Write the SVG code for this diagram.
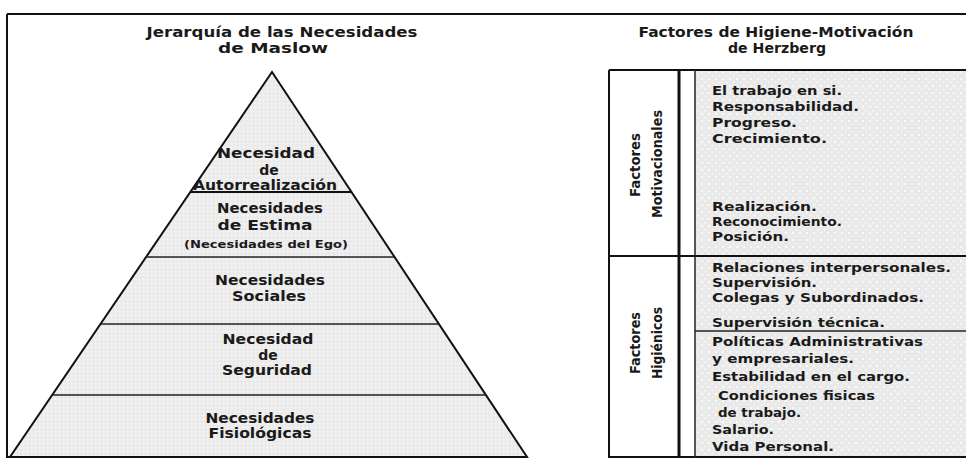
<svg xmlns="http://www.w3.org/2000/svg" width="966" height="463" viewBox="0 0 966 463">
<defs>
<pattern id="dots" width="7" height="7" patternUnits="userSpaceOnUse">
<rect width="7" height="7" fill="#e9e9e9"/>
<circle cx="2" cy="2" r="1.3" fill="#f8f8f8"/>
<circle cx="5.5" cy="5.5" r="1.1" fill="#f5f5f5"/>
</pattern>
<pattern id="grain" width="4" height="4" patternUnits="userSpaceOnUse">
<rect width="4" height="4" fill="#ededed"/>
<rect x="1" y="1" width="1" height="1" fill="#dedede"/>
<rect x="3" y="3" width="1" height="1" fill="#f7f7f7"/>
</pattern>
</defs>
<style>
text{font-family:"DejaVu Sans","Liberation Sans",Arial,sans-serif;font-weight:bold;fill:#1a1a1a}
.t{font-size:13.5px;text-anchor:middle}
.p{font-size:14px;text-anchor:middle}
.ps{font-size:11px;text-anchor:middle}
.r{font-size:12.5px}
.v{font-size:13.5px;text-anchor:middle}
.ln{stroke:#111;stroke-width:2;fill:none}
.thin{stroke:#222;stroke-width:1.5;fill:none}
</style>
<rect width="966" height="463" fill="#fff"/>

<g id="frame">
<line class="ln" x1="7" y1="14" x2="966" y2="14"/>
<line class="ln" x1="7" y1="14" x2="7" y2="458"/>
<line class="ln" x1="7" y1="457" x2="527" y2="457"/>
</g>

<g id="maslow-title">
<text class="t" x="282" y="37" textLength="271" lengthAdjust="spacingAndGlyphs">Jerarquía de las Necesidades</text>
<text class="t" x="273" y="53" textLength="110" lengthAdjust="spacingAndGlyphs">de Maslow</text>
</g>

<g id="pyramid">
<polygon points="272,72 527,457 10,457" fill="url(#grain)" stroke="#111" stroke-width="2" stroke-linejoin="miter"/>
</g>

<g id="connectors">
<line class="ln" x1="190" y1="192" x2="351" y2="192"/>
<line class="thin" x1="146" y1="257" x2="394" y2="257"/>
<line class="thin" x1="101" y1="324" x2="439" y2="324"/>
<line class="thin" x1="52" y1="395" x2="486" y2="395"/>
</g>

<g id="level-autorrealizacion">
<text class="p" x="266" y="158" textLength="98" lengthAdjust="spacingAndGlyphs">Necesidad</text>
<text class="p" x="269" y="175">de</text>
<text class="p" x="265" y="190" textLength="144" lengthAdjust="spacingAndGlyphs">Autorrealización</text>
</g>
<g id="level-estima">
<text class="p" x="270" y="213" textLength="106" lengthAdjust="spacingAndGlyphs">Necesidades</text>
<text class="p" x="265" y="230" textLength="95" lengthAdjust="spacingAndGlyphs">de  Estima</text>
<text class="ps" x="266" y="248" textLength="164" lengthAdjust="spacingAndGlyphs">(Necesidades del Ego)</text>
</g>
<g id="level-sociales">
<text class="p" x="270" y="285" textLength="110" lengthAdjust="spacingAndGlyphs">Necesidades</text>
<text class="p" x="269" y="301" textLength="74" lengthAdjust="spacingAndGlyphs">Sociales</text>
</g>
<g id="level-seguridad">
<text class="p" x="268" y="344" textLength="91" lengthAdjust="spacingAndGlyphs">Necesidad</text>
<text class="p" x="268" y="360">de</text>
<text class="p" x="267" y="375" textLength="90" lengthAdjust="spacingAndGlyphs">Seguridad</text>
</g>
<g id="level-fisiologicas">
<text class="p" x="260" y="423" textLength="109" lengthAdjust="spacingAndGlyphs">Necesidades</text>
<text class="p" x="260" y="438" textLength="103" lengthAdjust="spacingAndGlyphs">Fisiológicas</text>
</g>

<g id="herzberg-title">
<text class="t" x="776" y="37" textLength="275" lengthAdjust="spacingAndGlyphs">Factores de Higiene-Motivación</text>
<text class="t" x="777" y="53" textLength="98" lengthAdjust="spacingAndGlyphs">de Herzberg</text>
</g>

<g id="herzberg-table">
<rect x="695" y="70" width="271" height="388" fill="url(#dots)"/>
<line class="ln" x1="609" y1="70" x2="966" y2="70"/>
<line class="ln" x1="609" y1="70" x2="609" y2="458"/>
<line class="ln" x1="609" y1="457" x2="966" y2="457"/>
<line stroke="#111" stroke-width="3" x1="679" y1="70" x2="679" y2="458"/>
<line class="thin" x1="695" y1="70" x2="695" y2="458"/>
<line class="ln" x1="609" y1="256" x2="966" y2="256"/>
<line class="thin" x1="695" y1="331" x2="966" y2="331"/>
</g>

<g id="factores-motivacionales">
<text class="v" transform="translate(640,165) rotate(-90)" textLength="64" lengthAdjust="spacingAndGlyphs">Factores</text>
<text class="v" transform="translate(662,164) rotate(-90)" textLength="108" lengthAdjust="spacingAndGlyphs">Motivacionales</text>
<text class="r" x="712" y="95" textLength="130" lengthAdjust="spacingAndGlyphs">El trabajo en si.</text>
<text class="r" x="712" y="111" textLength="147" lengthAdjust="spacingAndGlyphs">Responsabilidad.</text>
<text class="r" x="712" y="127" textLength="85" lengthAdjust="spacingAndGlyphs">Progreso.</text>
<text class="r" x="712" y="143" textLength="115" lengthAdjust="spacingAndGlyphs">Crecimiento.</text>
<text class="r" x="712" y="211" textLength="105" lengthAdjust="spacingAndGlyphs">Realización.</text>
<text class="r" x="712" y="226" textLength="130" lengthAdjust="spacingAndGlyphs">Reconocimiento.</text>
<text class="r" x="712" y="241" textLength="77" lengthAdjust="spacingAndGlyphs">Posición.</text>
</g>

<g id="factores-higienicos">
<text class="v" transform="translate(640,343) rotate(-90)" textLength="62" lengthAdjust="spacingAndGlyphs">Factores</text>
<text class="v" transform="translate(662,343) rotate(-90)" textLength="72" lengthAdjust="spacingAndGlyphs">Higiénicos</text>
<text class="r" x="712" y="272" textLength="239" lengthAdjust="spacingAndGlyphs">Relaciones interpersonales.</text>
<text class="r" x="712" y="287" textLength="105" lengthAdjust="spacingAndGlyphs">Supervisión.</text>
<text class="r" x="712" y="302" textLength="212" lengthAdjust="spacingAndGlyphs">Colegas y Subordinados.</text>
<text class="r" x="712" y="327" textLength="173" lengthAdjust="spacingAndGlyphs">Supervisión técnica.</text>
<text class="r" x="712" y="346" textLength="211" lengthAdjust="spacingAndGlyphs">Políticas Administrativas</text>
<text class="r" x="712" y="363" textLength="142" lengthAdjust="spacingAndGlyphs">y empresariales.</text>
<text class="r" x="712" y="381" textLength="198" lengthAdjust="spacingAndGlyphs">Estabilidad en el cargo.</text>
<text class="r" x="718" y="400" textLength="157" lengthAdjust="spacingAndGlyphs">Condiciones fisicas</text>
<text class="r" x="718" y="417" textLength="83" lengthAdjust="spacingAndGlyphs">de trabajo.</text>
<text class="r" x="712" y="434" textLength="62" lengthAdjust="spacingAndGlyphs">Salario.</text>
<text class="r" x="712" y="451" textLength="122" lengthAdjust="spacingAndGlyphs">Vida Personal.</text>
</g>
</svg>
